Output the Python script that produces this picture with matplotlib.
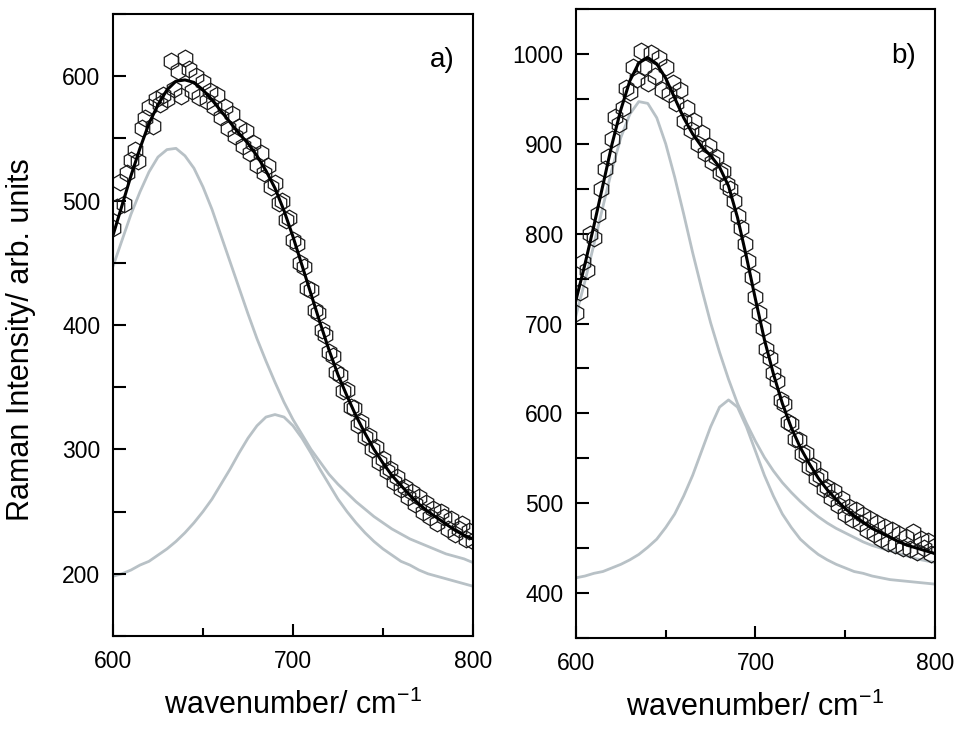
import matplotlib
matplotlib.use("Agg")
from matplotlib import pyplot as plt
from matplotlib.ticker import MultipleLocator

plt.rcParams['font.family'] = ['Liberation Sans', 'DejaVu Sans']

# ---- panel a) ----
# measured points
xa = [600, 602, 604, 606, 608, 610, 612, 614, 616, 618, 620, 622, 624, 626, 628, 630, 632, 634, 636, 638,
      640, 642, 644, 646, 648, 650, 652, 654, 656, 658, 660, 662, 664, 666, 668, 670, 672, 674, 676, 678,
      680, 682, 684, 686, 688, 690, 692, 694, 696, 698, 700, 702, 704, 706, 708, 710, 712, 714, 716, 718,
      720, 722, 724, 726, 728, 730, 732, 734, 736, 738, 740, 742, 744, 746, 748, 750, 752, 754, 756, 758,
      760, 762, 764, 766, 768, 770, 772, 774, 776, 778, 780, 782, 784, 786, 788, 790, 792, 794, 796, 798, 800]
ya = [478, 495, 515, 497, 522, 533, 541, 532, 558, 566, 575, 560, 582, 578, 585, 582, 612, 590, 604, 584,
      615, 606, 588, 600, 583, 595, 580, 588, 575, 585, 567, 575, 558, 570, 552, 559, 544, 556, 538, 546,
      529, 538, 522, 528, 511, 514, 498, 500, 484, 486, 468, 465, 450, 447, 430, 428, 412, 410, 396, 392,
      378, 375, 362, 360, 347, 348, 334, 333, 320, 322, 310, 311, 300, 302, 290, 292, 283, 284, 274, 278,
      268, 270, 262, 266, 256, 262, 250, 257, 246, 252, 241, 250, 246, 236, 244, 232, 236, 240, 228, 234, 226]

# fitted curves (read every 5 cm-1)
xfit = [600, 605, 610, 615, 620, 625, 630, 635, 640, 645, 650, 655, 660, 665, 670, 675, 680, 685, 690, 695,
        700, 705, 710, 715, 720, 725, 730, 735, 740, 745, 750, 755, 760, 765, 770, 775, 780, 785, 790, 795, 800]
fit_a = [472, 496, 520, 542, 562, 577, 589, 596, 597, 595, 589, 581, 572, 563, 554, 546, 536, 524, 510, 492,
         471, 448, 425, 402, 380, 360, 343, 327, 313, 300, 289, 279, 271, 263, 256, 250, 245, 240, 235, 231, 228]
peak1_a = [447, 468, 489, 507, 523, 535, 541, 542, 536, 526, 511, 493, 472, 451, 430, 409, 389, 371, 354, 338,
           324, 312, 300, 290, 280, 272, 265, 258, 252, 246, 241, 236, 232, 228, 225, 222, 219, 216, 214, 212, 209]
peak2_a = [198, 200, 203, 207, 210, 215, 220, 226, 233, 241, 250, 260, 272, 284, 297, 309, 319, 326, 328, 326,
           319, 309, 297, 284, 272, 260, 250, 241, 233, 226, 220, 215, 210, 207, 203, 200, 198, 196, 194, 192, 190]

# ---- panel b) ----
xb = xa
yb = [712, 735, 768, 760, 800, 795, 822, 850, 872, 885, 905, 930, 922, 940, 962, 958, 986, 972, 1003, 985,
      968, 1001, 975, 996, 960, 985, 955, 968, 945, 960, 925, 940, 915, 925, 900, 912, 890, 898, 880, 885,
      868, 870, 855, 850, 836, 820, 806, 788, 770, 752, 730, 712, 695, 672, 662, 645, 636, 615, 610, 590,
      588, 572, 570, 555, 556, 540, 542, 528, 530, 516, 518, 506, 514, 498, 505, 488, 496, 482, 492, 478,
      487, 470, 482, 466, 478, 460, 474, 456, 470, 454, 466, 450, 462, 449, 468, 446, 460, 450, 458, 444, 452]
fit_b = [726, 766, 809, 854, 899, 938, 970, 990, 996, 989, 973, 951, 929, 911, 897, 887, 874, 853, 818, 774,
         727, 682, 644, 611, 584, 562, 544, 528, 515, 504, 494, 486, 479, 472, 467, 462, 457, 453, 450, 447, 444]
peak1_b = [709, 747, 788, 830, 871, 907, 933, 947, 945, 929, 900, 863, 822, 779, 739, 701, 668, 638, 611, 589,
           569, 551, 536, 523, 512, 502, 493, 485, 478, 472, 467, 462, 457, 453, 450, 447, 444, 441, 438, 436, 434]
peak2_b = [417, 419, 422, 424, 428, 432, 437, 443, 451, 460, 473, 488, 508, 531, 558, 585, 607, 615, 607, 585,
           558, 531, 508, 488, 473, 460, 451, 443, 437, 432, 428, 424, 422, 419, 417, 415, 414, 413, 412, 411, 410]

gray = '#b8c1c6'

fig = plt.figure(figsize=(9.59, 7.29), dpi=100)
ax0 = fig.add_axes([0.1178, 0.1276, 0.3754, 0.8532])
ax1 = fig.add_axes([0.6006, 0.1248, 0.3743, 0.8628])


def draw_panel(ax, x, y, p1, p2, fit, ylim, tag):
    ax.plot(xfit, p1, color=gray, lw=2.0, zorder=1)
    ax.plot(xfit, p2, color=gray, lw=2.0, zorder=1)
    ax.plot(x, y, ls='none', marker='h', ms=12, mfc='none', mec='#1a1a1a', mew=0.9, zorder=2)
    ax.plot(xfit, fit, color='black', lw=2.2, zorder=3)
    ax.set_xlim(600, 800)
    ax.set_ylim(*ylim)
    ax.xaxis.set_major_locator(MultipleLocator(100))
    ax.xaxis.set_minor_locator(MultipleLocator(50))
    ax.yaxis.set_major_locator(MultipleLocator(100))
    ax.yaxis.set_minor_locator(MultipleLocator(50))
    ax.tick_params(which='both', direction='in', width=1.5, labelsize=16.5)
    ax.tick_params(axis='x', which='major', length=9, pad=10)
    ax.tick_params(axis='x', which='minor', length=6)
    ax.tick_params(axis='y', which='both', length=9, pad=9)
    for s in ax.spines.values():
        s.set_linewidth(1.5)
    ax.set_xlabel('wavenumber/ cm$^{\\mathregular{-1}}$', fontsize=22, labelpad=12)
    ax.text(0.914, 0.926, tag, transform=ax.transAxes, fontsize=20, ha='center', va='center')


draw_panel(ax0, xa, ya, peak1_a, peak2_a, fit_a, (150, 650), 'a)')
draw_panel(ax1, xb, yb, peak1_b, peak2_b, fit_b, (350, 1050), 'b)')
ax0.set_ylabel('Raman Intensity/ arb. units', fontsize=22)
ax0.yaxis.set_label_coords(-0.215, 0.476)

fig.savefig('out.png', dpi=100)
